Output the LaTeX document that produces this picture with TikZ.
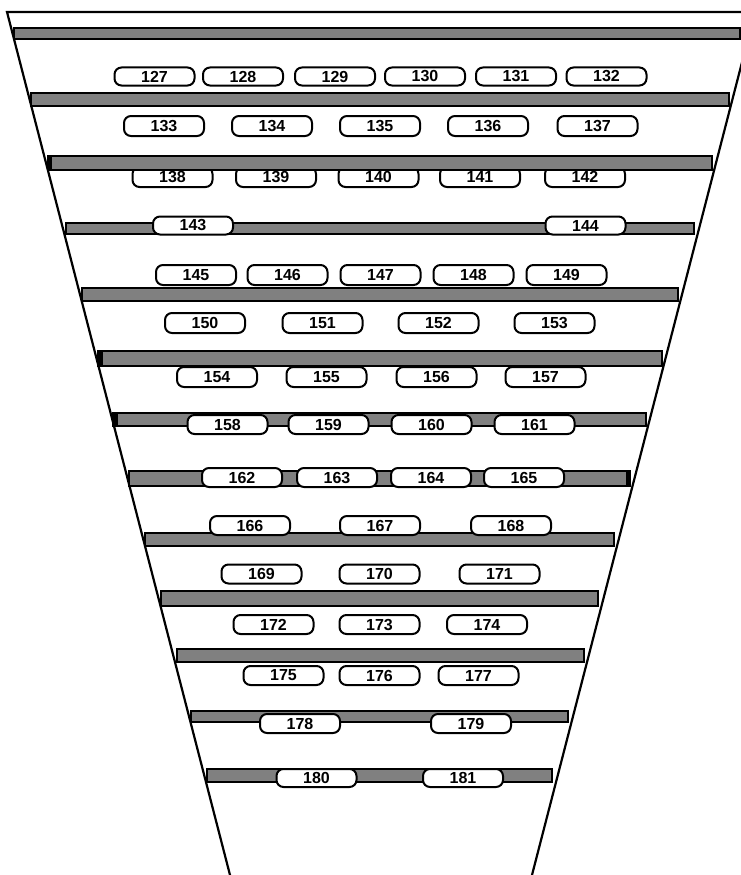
\documentclass[tikz,border=0pt]{standalone}
\usepackage{fontspec}
\setmainfont{Liberation Sans}
\usepackage{xcolor}
\usepackage{tikz}
\definecolor{shelfgray}{HTML}{808080}
\tikzset{
    shelf/.style={draw, line width=2.4pt, fill=shelfgray},
    bin/.style={draw, line width=2pt, rounded corners=7pt, fill=white,
        minimum width=80pt, minimum height=18pt, inner sep=0pt,
        font=\fontsize{16}{16}\selectfont\bfseries},
}

\begin{document}
\begin{tikzpicture}[x=1pt, y=-1pt]
    \useasboundingbox (0,0) rectangle (741,875);
    \clip (0,0) rectangle (741,875);

    % Outline
    \draw[line width=2.2pt] (230,875) -- (7,12) -- (760,12);
    \draw[line width=2.2pt] (532,875) -- (755,12);

    % Bins hidden under the third shelf
    \node[bin, minimum height=20pt] (b138) at (172.5,177) {138};
    \node[bin, minimum height=20pt] (b139) at (276,177) {139};
    \node[bin, minimum height=20pt] (b140) at (378.5,177) {140};
    \node[bin, minimum height=20pt] (b141) at (480,177) {141};
    \node[bin, minimum height=20pt] (b142) at (585,177) {142};

    % Shelves
    \draw[shelf] (14,28) rectangle (740,39);
    \draw[shelf] (31,93) rectangle (729,106);
    \draw[shelf] (48,156) rectangle (712,170);
    \draw[shelf] (66,223) rectangle (694,234);
    \draw[shelf] (82,288) rectangle (678,301);
    \draw[shelf] (98,351) rectangle (662,366);
    \draw[shelf] (113,413) rectangle (646,426);
    \draw[shelf] (129,471) rectangle (630,486);
    \draw[shelf] (145,533) rectangle (614,546);
    \draw[shelf] (161,591) rectangle (598,606);
    \draw[shelf] (177,649) rectangle (584,662);
    \draw[shelf] (191,711) rectangle (568,722);
    \draw[shelf] (207,769) rectangle (552,782);

    % Shelf ends
    \fill (47,156) rectangle (52,170);
    \fill (97,351) rectangle (103,366);
    \fill (112,413) rectangle (118,426);
    \fill (626,471) rectangle (631,486);

    % Bins
    \node[bin] (b127) at (154.5,76.5) {127};
    \node[bin] (b128) at (243,76.5) {128};
    \node[bin] (b129) at (335,76.5) {129};
    \node[bin] (b130) at (425,76.5) {130};
    \node[bin] (b131) at (516,76.5) {131};
    \node[bin] (b132) at (606.5,76.5) {132};

    \node[bin, minimum height=20pt] (b133) at (164,126) {133};
    \node[bin, minimum height=20pt] (b134) at (272,126) {134};
    \node[bin, minimum height=20pt] (b135) at (380,126) {135};
    \node[bin, minimum height=20pt] (b136) at (488,126) {136};
    \node[bin, minimum height=20pt] (b137) at (597.5,126) {137};

    \node[bin] (b143) at (193,225.5) {143};
    \node[bin] (b144) at (585.5,225.5) {144};

    \node[bin, minimum height=20pt] (b145) at (196,275) {145};
    \node[bin, minimum height=20pt] (b146) at (287.5,275) {146};
    \node[bin, minimum height=20pt] (b147) at (380.5,275) {147};
    \node[bin, minimum height=20pt] (b148) at (473.5,275) {148};
    \node[bin, minimum height=20pt] (b149) at (566.5,275) {149};

    \node[bin, minimum height=20pt] (b150) at (205,323) {150};
    \node[bin, minimum height=20pt] (b151) at (322.5,323) {151};
    \node[bin, minimum height=20pt] (b152) at (438.5,323) {152};
    \node[bin, minimum height=20pt] (b153) at (554.5,323) {153};

    \node[bin, minimum height=20pt] (b154) at (217,377) {154};
    \node[bin, minimum height=20pt] (b155) at (326.5,377) {155};
    \node[bin, minimum height=20pt] (b156) at (436.5,377) {156};
    \node[bin, minimum height=20pt] (b157) at (545.5,377) {157};

    \node[bin, minimum height=19pt] (b158) at (227.5,424.5) {158};
    \node[bin, minimum height=19pt] (b159) at (328.5,424.5) {159};
    \node[bin, minimum height=19pt] (b160) at (431.5,424.5) {160};
    \node[bin, minimum height=19pt] (b161) at (534.5,424.5) {161};

    \node[bin, minimum height=19pt] (b162) at (242,477.5) {162};
    \node[bin, minimum height=19pt] (b163) at (337,477.5) {163};
    \node[bin, minimum height=19pt] (b164) at (431,477.5) {164};
    \node[bin, minimum height=19pt] (b165) at (524,477.5) {165};

    \node[bin, minimum height=19pt] (b166) at (250,525.5) {166};
    \node[bin, minimum height=19pt] (b167) at (380,525.5) {167};
    \node[bin, minimum height=19pt] (b168) at (511,525.5) {168};

    \node[bin, minimum height=19pt] (b169) at (261.5,574) {169};
    \node[bin, minimum height=19pt] (b170) at (379.5,574) {170};
    \node[bin, minimum height=19pt] (b171) at (499.5,574) {171};

    \node[bin, minimum height=19pt] (b172) at (273.5,624.5) {172};
    \node[bin, minimum height=19pt] (b173) at (379.5,624.5) {173};
    \node[bin, minimum height=19pt] (b174) at (487,624.5) {174};

    \node[bin, minimum height=19pt] (b175) at (283.5,675.5) {175};
    \node[bin, minimum height=19pt] (b176) at (379.5,675.5) {176};
    \node[bin, minimum height=19pt] (b177) at (478.5,675.5) {177};

    \node[bin, minimum height=19pt] (b178) at (300,723.5) {178};
    \node[bin, minimum height=19pt] (b179) at (471,723.5) {179};

    \node[bin] (b180) at (316.5,778) {180};
    \node[bin] (b181) at (463,778) {181};
\end{tikzpicture}
\end{document}
